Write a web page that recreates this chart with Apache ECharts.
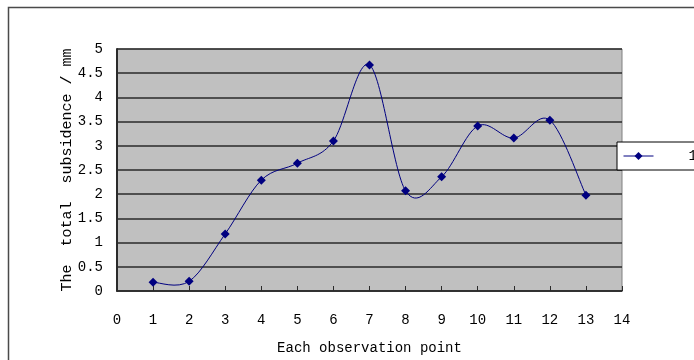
<!DOCTYPE html>
<html>
<head>
<meta charset="utf-8">
<script src="https://cdn.jsdelivr.net/npm/echarts@6/dist/echarts.min.js"></script>
<style>
  html, body { margin: 0; padding: 0; background: #fff; }
  #chart { width: 694px; height: 360px; }
</style>
</head>
<body>
<div id="chart"></div>
<script>
// Observation points and total subsidence (mm) at each point
const points = [1, 2, 3, 4, 5, 6, 7, 8, 9, 10, 11, 12, 13];
const subsidence = [0.18, 0.2, 1.18, 2.29, 2.64, 3.1, 4.67, 2.07, 2.36, 3.41, 3.16, 3.53, 1.98];
const seriesName = '1';
const xTitle = 'Each observation point';
const yTitle = 'The  total  subsidence / mm';

const font = 'Liberation Mono, DejaVu Sans Mono, monospace';
const lineColor = '#000080';
const chart = echarts.init(document.getElementById('chart'), null, { renderer: 'canvas' });

// Smoothed connecting curve: Catmull-Rom style cubic Bezier through the
// pixel positions the axes give for each point.
function renderCurve(params, api) {
  const pts = points.map((p, i) => api.coord([p, subsidence[i]]));
  const n = pts.length;
  let d = 'M' + pts[0][0] + ',' + pts[0][1];
  for (let i = 0; i < n - 1; i++) {
    const p0 = pts[Math.max(i - 1, 0)];
    const p1 = pts[i];
    const p2 = pts[i + 1];
    const p3 = pts[Math.min(i + 2, n - 1)];
    const c1x = p1[0] + (p2[0] - p0[0]) / 6;
    const c1y = p1[1] + (p2[1] - p0[1]) / 6;
    const c2x = p2[0] - (p3[0] - p1[0]) / 6;
    const c2y = p2[1] - (p3[1] - p1[1]) / 6;
    d += ' C' + c1x + ',' + c1y + ' ' + c2x + ',' + c2y + ' ' + p2[0] + ',' + p2[1];
  }
  return {
    type: 'path',
    shape: { pathData: d },
    style: { fill: 'none', stroke: lineColor, lineWidth: 1 }
  };
}

chart.setOption({
  backgroundColor: '#ffffff',
  animation: false,
  textStyle: { fontFamily: font, color: '#000' },
  graphic: [{
    type: 'rect',
    shape: { x: 8.5, y: 7.5, width: 720, height: 400 },
    style: { fill: 'none', stroke: '#4a4a4a', lineWidth: 1.5 },
    silent: true,
    z: -1
  }],
  grid: {
    left: 117, right: 72, top: 49, bottom: 69,
    outerBoundsMode: 'none',
    containLabel: false,
    show: true,
    backgroundColor: '#c0c0c0',
    borderColor: '#808080',
    borderWidth: 1
  },
  legend: {
    left: 617, top: 142,
    width: 120,
    backgroundColor: '#fff',
    borderColor: '#000',
    borderWidth: 1,
    borderRadius: 0,
    padding: [7, 40, 7, 6],
    itemWidth: 30,
    itemHeight: 10,
    lineStyle: { color: lineColor, width: 1, opacity: 1 },
    textStyle: { fontFamily: font, fontSize: 14, color: '#000', padding: [0, 0, 0, 30] },
    data: [seriesName]
  },
  xAxis: {
    type: 'value',
    min: 0, max: 14, interval: 1,
    name: xTitle,
    nameLocation: 'middle',
    nameGap: 50,
    nameMoveOverlap: false,
    nameTextStyle: { fontFamily: font, fontSize: 14, color: '#000' },
    axisLine: { show: true, onZero: false, lineStyle: { color: '#2a2a2a', width: 1.5 } },
    axisTick: { show: true, inside: true, length: 5, lineStyle: { color: '#2a2a2a' } },
    axisLabel: { fontFamily: font, fontSize: 14, color: '#000', margin: 22 },
    splitLine: { show: false }
  },
  yAxis: {
    type: 'value',
    min: 0, max: 5, interval: 0.5,
    name: yTitle,
    nameLocation: 'middle',
    nameGap: 42,
    nameMoveOverlap: false,
    nameRotate: 90,
    nameTextStyle: { fontFamily: font, fontSize: 15, color: '#000' },
    axisLine: { show: true, lineStyle: { color: '#2a2a2a', width: 2 } },
    axisTick: { show: false },
    axisLabel: { fontFamily: font, fontSize: 14, color: '#000', margin: 14 },
    splitLine: { show: true, lineStyle: { color: '#2a2a2a', width: 1.5 } }
  },
  series: [
    {
      name: 'curve',
      type: 'custom',
      coordinateSystem: 'cartesian2d',
      data: [[points[0], subsidence[0]]],
      renderItem: renderCurve,
      silent: true,
      z: 2
    },
    {
      name: seriesName,
      type: 'line',
      data: points.map((p, i) => [p, subsidence[i]]),
      symbol: 'diamond',
      symbolSize: 9,
      itemStyle: { color: lineColor },
      lineStyle: { color: lineColor, width: 1, opacity: 0 },
      z: 3
    }
  ]
});
</script>
</body>
</html>
